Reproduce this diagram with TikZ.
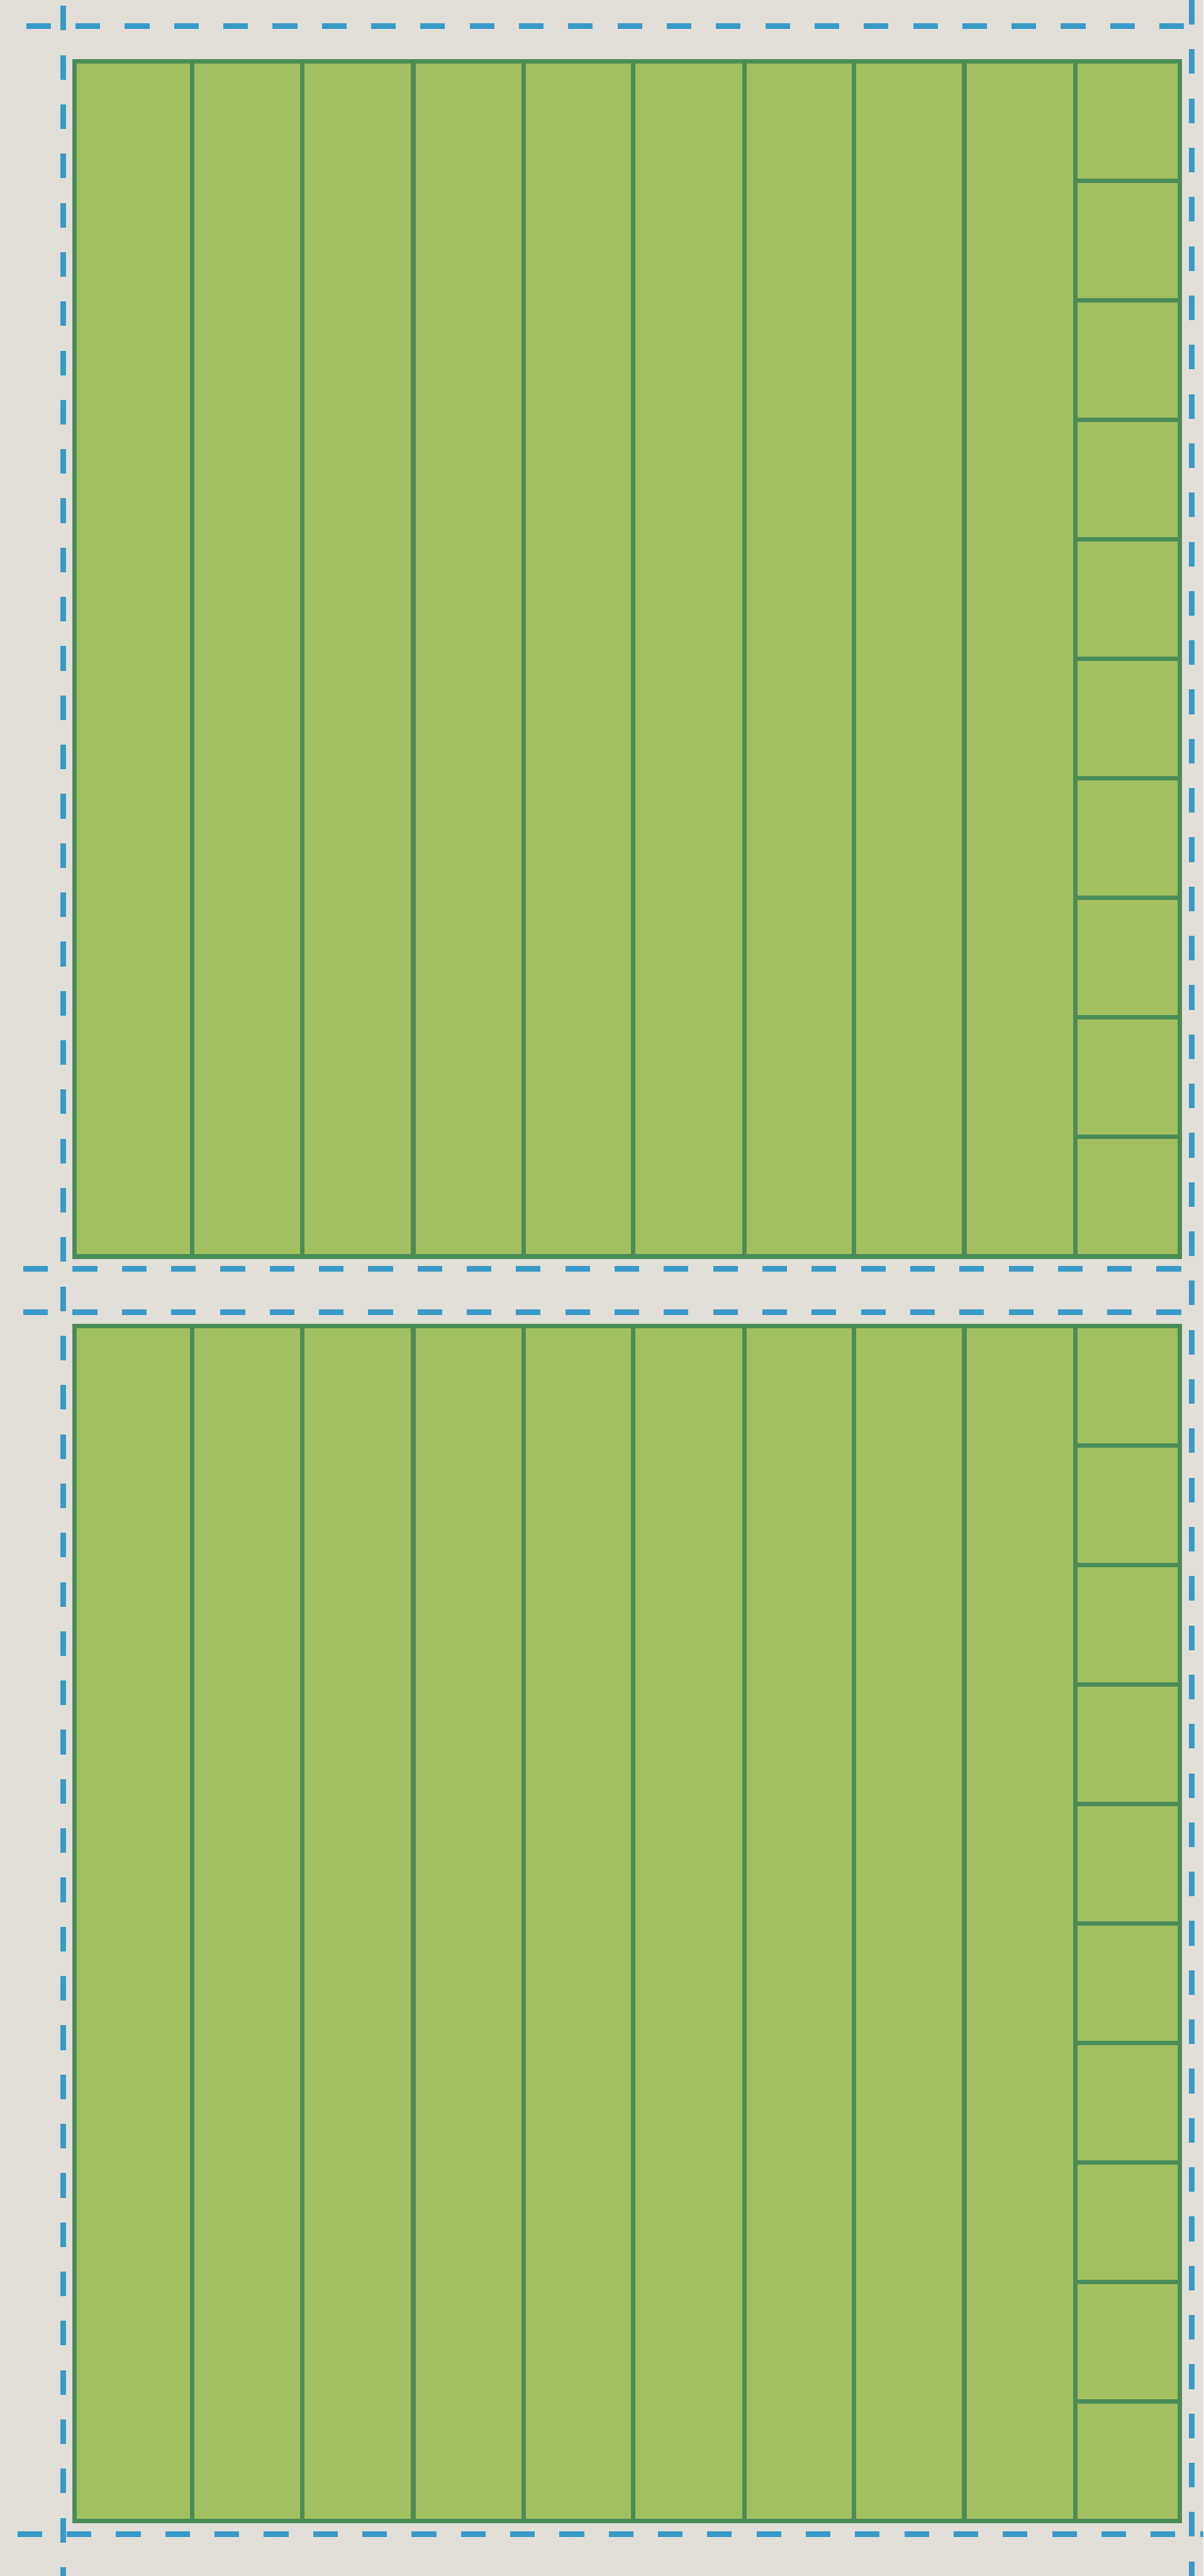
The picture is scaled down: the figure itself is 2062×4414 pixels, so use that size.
\documentclass[tikz,border=0pt]{standalone}
\usepackage{tikz}
\usepackage{xcolor}

\definecolor{paper}{RGB}{226,223,216}
\definecolor{blockgreen}{RGB}{163,192,96}
\definecolor{gridgreen}{RGB}{74,140,86}
\definecolor{cutblue}{RGB}{56,154,200}

\begin{document}
\begin{tikzpicture}[
  x=0.01cm, y=-0.01cm,
  cut/.style={draw=cutblue, line width=2.8pt, dash pattern=on 12pt off 12pt},
  grid/.style={draw=gridgreen, line width=2.2pt},
]
\useasboundingbox (0,0) rectangle (2062,4414);
\fill[paper] (0,0) rectangle (2062,4414);

% two hundred-squares: nine strips of ten and a column of ten ones
\foreach \t in {105,2272} {
  \fill[blockgreen] (128,\t) rectangle (2021,{\t+2048});
  \foreach \x in {329,518,708,897,1085,1275,1463,1652,1842}
    \draw[grid] (\x,\t) -- (\x,{\t+2048});
  \foreach \k in {1,...,9}
    \draw[grid] (1842,{\t+204.8*\k}) -- (2021,{\t+204.8*\k});
  \draw[grid] (128,\t) rectangle (2021,{\t+2048});
}

% cutting lines
\draw[cut] (108,10) -- (108,4414);
\draw[cut] (2042,0) -- (2042,4414);
\draw[cut] (45,45) -- (2062,45);
\draw[cut] (40,2174) -- (2062,2174);
\draw[cut] (40,2248) -- (2062,2248);
\draw[cut] (30,4342) -- (2062,4342);
\end{tikzpicture}
\end{document}
